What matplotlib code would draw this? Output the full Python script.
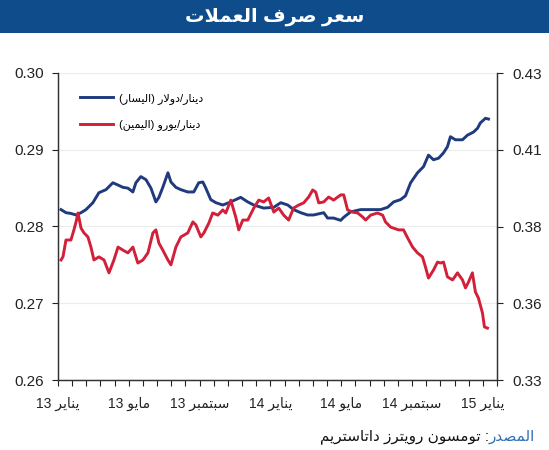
import re
import numpy as np
import matplotlib
matplotlib.use('Agg')
import matplotlib.pyplot as plt
from matplotlib.patches import Rectangle

plt.rcParams['font.family'] = ['Liberation Sans', 'DejaVu Sans']

"""data (months since January 2013, read off the chart)"""
title = 'سعر صرف العملات'
source_head = 'المصدر'
source_tail = ': تومسون رويترز داتاستريم'
usd_label = 'دينار/دولار (اليسار)'
eur_label = 'دينار/يورو (اليمين)'
tick_labels = ['يناير 13', 'مايو 13', 'سبتمبر 13', 'يناير 14', 'مايو 14', 'سبتمبر 14', 'يناير 15']
tick_months = [0, 4, 8, 12, 16, 20, 24]
left_ticks = [0.26, 0.27, 0.28, 0.29, 0.30]
right_ticks = [0.33, 0.355, 0.38, 0.405, 0.43]
right_tick_labels = ['0.33', '0.36', '0.38', '0.41', '0.43']

usd_months = [0.17, 0.45, 0.73, 1.02, 1.30, 1.58, 1.97, 2.31, 2.71, 3.10, 3.39, 3.67, 3.95, 4.23,
              4.40, 4.68, 4.97, 5.25, 5.53, 5.70, 5.92, 6.21, 6.38, 6.66, 6.94, 7.33, 7.67, 7.95,
              8.18, 8.35, 8.63, 8.92, 9.31, 9.65, 10.04, 10.32, 10.72, 11.06, 11.62, 12.19, 12.58,
              12.98, 13.31, 13.71, 14.10, 14.44, 15.01, 15.23, 15.57, 15.97, 16.14, 16.53, 17.09,
              17.66, 18.22, 18.62, 18.96, 19.35, 19.63, 19.92, 20.31, 20.65, 20.93, 21.21, 21.50,
              21.78, 22.00, 22.17, 22.45, 22.85, 23.13, 23.47, 23.70, 23.86, 24.15, 24.32]
usd_rate = [0.2822, 0.2818, 0.2817, 0.2815, 0.2818, 0.2822, 0.2831, 0.2844, 0.2848, 0.2857, 0.2854,
            0.2851, 0.2850, 0.2845, 0.2857, 0.2865, 0.2861, 0.2850, 0.2832, 0.2838, 0.2851, 0.2870,
            0.2858, 0.2851, 0.2848, 0.2845, 0.2845, 0.2857, 0.2858, 0.2850, 0.2835, 0.2831, 0.2828,
            0.2831, 0.2835, 0.2838, 0.2832, 0.2828, 0.2824, 0.2825, 0.2831, 0.2828, 0.2822, 0.2818,
            0.2815, 0.2815, 0.2818, 0.2811, 0.2811, 0.2808, 0.2812, 0.2819, 0.2822, 0.2822, 0.2822,
            0.2825, 0.2832, 0.2835, 0.2840, 0.2857, 0.2870, 0.2878, 0.2893, 0.2887, 0.2889, 0.2896,
            0.2904, 0.2917, 0.2913, 0.2913, 0.2919, 0.2923, 0.2928, 0.2935, 0.2941, 0.2940]

eur_months = [0.17, 0.28, 0.45, 0.73, 0.90, 1.02, 1.13, 1.30, 1.47, 1.69, 1.86, 2.03, 2.31, 2.60,
              2.88, 3.16, 3.39, 3.67, 3.95, 4.23, 4.51, 4.80, 5.08, 5.36, 5.53, 5.70, 5.92, 6.21,
              6.38, 6.66, 6.94, 7.33, 7.62, 7.79, 8.07, 8.24, 8.52, 8.74, 9.03, 9.31, 9.48, 9.76,
              10.04, 10.21, 10.44, 10.72, 11.06, 11.34, 11.62, 11.90, 12.19, 12.47, 12.75, 13.03,
              13.31, 13.60, 13.88, 14.16, 14.39, 14.56, 14.73, 15.01, 15.29, 15.57, 15.97, 16.14,
              16.36, 16.64, 16.93, 17.21, 17.38, 17.66, 18.05, 18.34, 18.50, 18.79, 19.24, 19.52,
              19.75, 20.03, 20.31, 20.59, 20.76, 20.93, 21.21, 21.44, 21.61, 21.78, 22.00, 22.29,
              22.57, 22.85, 23.02, 23.19, 23.41, 23.58, 23.75, 23.98, 24.09, 24.26]
eur_rate = [0.3691, 0.3701, 0.3756, 0.3756, 0.3789, 0.3815, 0.3844, 0.3795, 0.3779, 0.3766, 0.3733,
            0.3691, 0.3701, 0.3691, 0.3649, 0.3691, 0.3733, 0.3723, 0.3714, 0.3733, 0.3681, 0.3691,
            0.3714, 0.3779, 0.3789, 0.3746, 0.3723, 0.3691, 0.3675, 0.3733, 0.3766, 0.3779, 0.3815,
            0.3805, 0.3766, 0.3779, 0.3811, 0.3844, 0.3837, 0.3854, 0.3844, 0.3886, 0.3831, 0.3789,
            0.3821, 0.3821, 0.3860, 0.3886, 0.3880, 0.3893, 0.3847, 0.3860, 0.3837, 0.3821, 0.3860,
            0.3870, 0.3877, 0.3896, 0.3919, 0.3912, 0.3877, 0.3880, 0.3896, 0.3886, 0.3903, 0.3903,
            0.3854, 0.3847, 0.3844, 0.3831, 0.3821, 0.3837, 0.3844, 0.3837, 0.3815, 0.3798, 0.3789,
            0.3789, 0.3763, 0.3733, 0.3714, 0.3701, 0.3668, 0.3632, 0.3658, 0.3684, 0.3681, 0.3684,
            0.3636, 0.3626, 0.3649, 0.3626, 0.3600, 0.3619, 0.3649, 0.3587, 0.3567, 0.3518, 0.3473,
            0.3469]

"""Arabic shaping: isolated, final, initial, medial"""
FORMS = {
    'ا': ('\uFE8D', '\uFE8E', None, None),
    'ب': ('\uFE8F', '\uFE90', '\uFE91', '\uFE92'),
    'ت': ('\uFE95', '\uFE96', '\uFE97', '\uFE98'),
    'د': ('\uFEA9', '\uFEAA', None, None),
    'ر': ('\uFEAD', '\uFEAE', None, None),
    'ز': ('\uFEAF', '\uFEB0', None, None),
    'س': ('\uFEB1', '\uFEB2', '\uFEB3', '\uFEB4'),
    'ص': ('\uFEB9', '\uFEBA', '\uFEBB', '\uFEBC'),
    'ع': ('\uFEC9', '\uFECA', '\uFECB', '\uFECC'),
    'ف': ('\uFED1', '\uFED2', '\uFED3', '\uFED4'),
    'ل': ('\uFEDD', '\uFEDE', '\uFEDF', '\uFEE0'),
    'م': ('\uFEE1', '\uFEE2', '\uFEE3', '\uFEE4'),
    'ن': ('\uFEE5', '\uFEE6', '\uFEE7', '\uFEE8'),
    'و': ('\uFEED', '\uFEEE', None, None),
    'ي': ('\uFEF1', '\uFEF2', '\uFEF3', '\uFEF4'),
}
MIRROR = {'(': ')', ')': '('}


def dual(c):
    return c in FORMS and FORMS[c][2] is not None


def ar(text):
    out = []
    i = 0
    n = len(text)
    while i < n:
        c = text[i]
        if c not in FORMS:
            out.append(c)
            i += 1
            continue
        joins_prev = i > 0 and dual(text[i - 1])
        if c == 'ل' and i + 1 < n and text[i + 1] == 'ا':
            out.append('\uFEFC' if joins_prev else '\uFEFB')
            i += 2
            continue
        joins_next = dual(c) and i + 1 < n and text[i + 1] in FORMS
        iso, fin, ini, med = FORMS[c]
        if joins_prev and joins_next:
            out.append(med)
        elif joins_prev:
            out.append(fin)
        elif joins_next:
            out.append(ini)
        else:
            out.append(iso)
        i += 1
    tokens = re.findall(r'\d+(?:\.\d+)?|.', ''.join(out))
    return ''.join(MIRROR.get(t, t) for t in reversed(tokens))


W, H = 549, 450
fig = plt.figure(figsize=(W / 100, H / 100), dpi=100)

# title bar
fig.patches.append(Rectangle((0, 1 - 33 / H), 1, 33 / H, transform=fig.transFigure,
                             facecolor='#0f4c8c', edgecolor='none', zorder=0))
fig.text(0.5, 1 - 17 / H, ar(title), color='white', fontsize=14, fontweight='bold',
         ha='center', va='center')

ax = fig.add_axes([58 / W, 1 - 380 / H, (497 - 58) / W, (380 - 73) / H])
ax2 = ax.twinx()

blue = '#1f3a7d'
red = '#d21f3a'
l1, = ax.plot(usd_months, usd_rate, color=blue, lw=2.1, solid_joinstyle='round')
l2, = ax2.plot(eur_months, eur_rate, color=red, lw=2.1, solid_joinstyle='round')

ax.set_xlim(0, 24.8)
ax.set_ylim(0.26, 0.30)
ax2.set_ylim(0.33, 0.43)

ax.set_yticks(left_ticks)
ax.set_yticklabels(['%.2f' % v for v in left_ticks])
ax2.set_yticks(right_ticks)
ax2.set_yticklabels(right_tick_labels)
ax.yaxis.grid(True, color='#ececec', lw=0.8)
ax.set_axisbelow(True)

ax.set_xticks(np.arange(0, 24.85, 0.8), minor=True)
ax.set_xticks(tick_months)
ax.set_xticklabels([ar(t) for t in tick_labels], fontsize=10)
ax.tick_params(axis='x', which='both', direction='out', length=4, width=0.8, colors='#222', pad=8)
ax.tick_params(axis='y', direction='out', length=4, width=0.8, labelsize=11, colors='#222', pad=6)
ax2.tick_params(axis='y', direction='out', length=4, width=0.8, labelsize=11, colors='#222', pad=7)

for a in (ax, ax2):
    a.spines['top'].set_visible(False)
    for s in ('left', 'right', 'bottom'):
        a.spines[s].set_color('#333')
        a.spines[s].set_linewidth(0.9)

ax2.legend([l1, l2], [ar(usd_label), ar(eur_label)], loc='upper left',
           bbox_to_anchor=(0.05, 0.935), frameon=False, fontsize=8, handlelength=3,
           handletextpad=0.5, labelspacing=1.4, borderpad=0, borderaxespad=0)

# source line: blue head on the right, black rest to its left
head = fig.text(535 / W, 1 - 437 / H, ar(source_head), color='#2f6fb5', fontsize=11,
                ha='right', va='center')
ax.annotate(ar(source_tail), xy=(0, 0.5), xycoords=head, ha='right', va='center',
            fontsize=11, color='#111', annotation_clip=False)

fig.savefig('out.png', dpi=100)
